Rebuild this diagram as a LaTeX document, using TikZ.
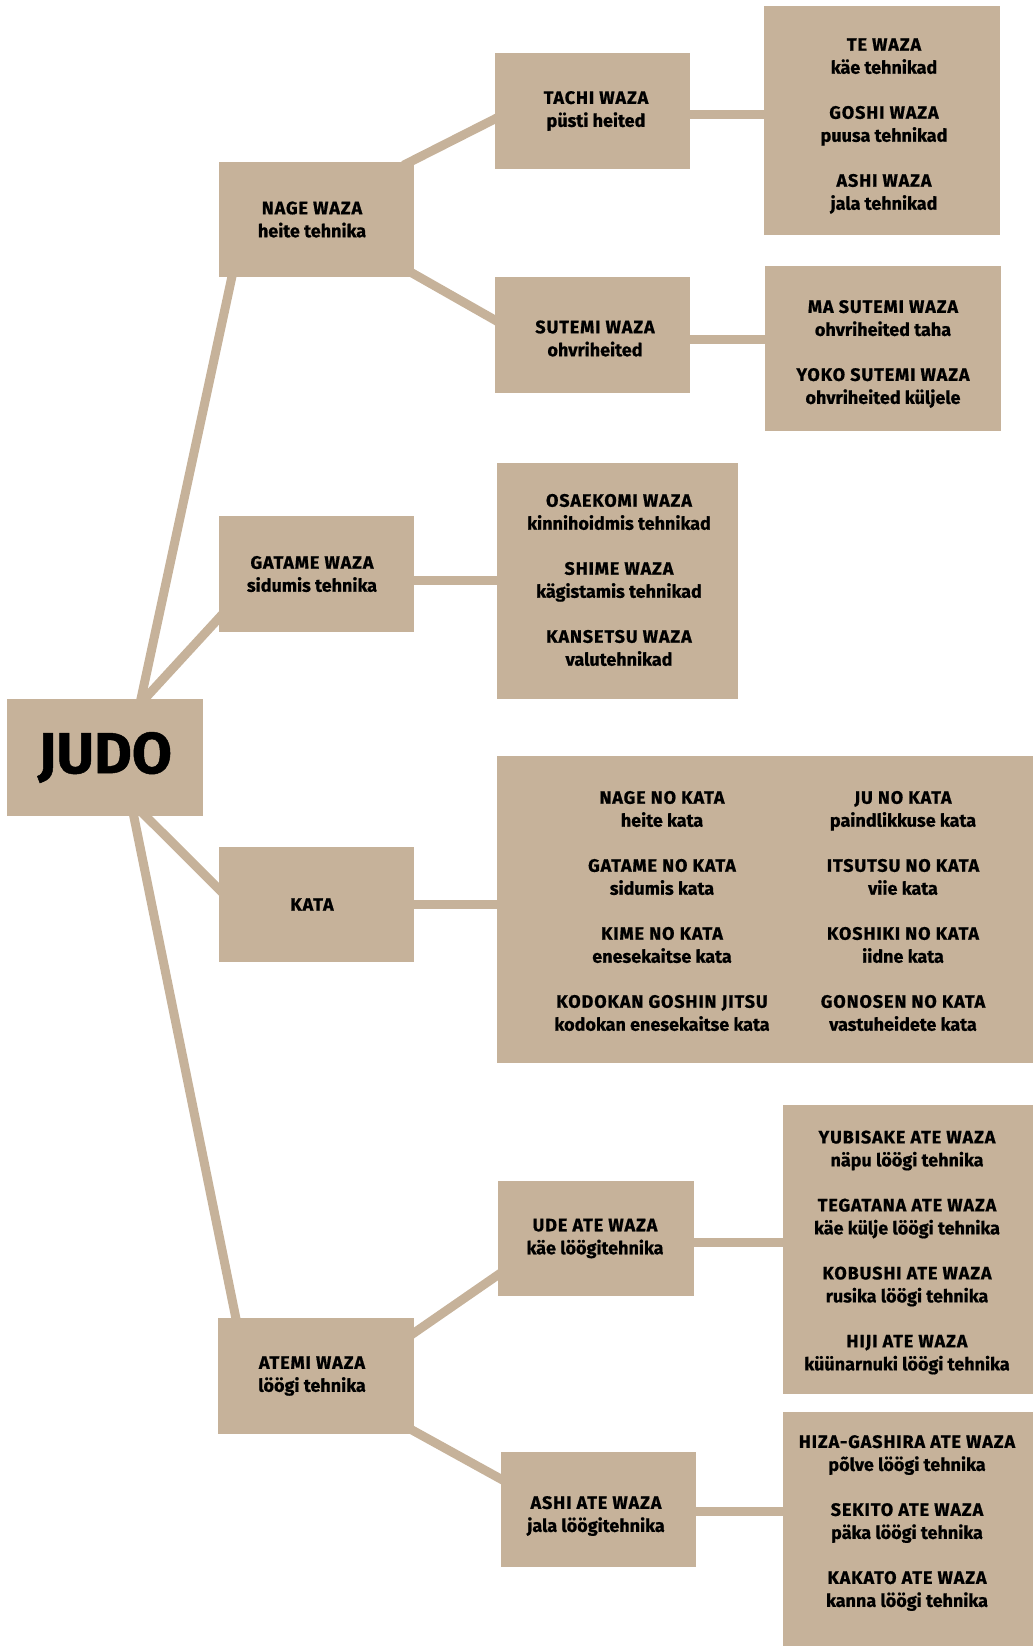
\documentclass[tikz,border=0pt]{standalone}
\usepackage{fontspec}
\setmainfont{Fira Sans}[BoldFeatures={FakeBold=0.8}]
\usetikzlibrary{calc,backgrounds}
\definecolor{boxtan}{RGB}{198,178,154}
\newcommand\txtfont{\fontsize{18}{23}\selectfont\bfseries}
\newcommand\judofont{\fontsize{58}{60}\selectfont\bfseries}
\newcommand\ti[1]{{\addfontfeature{LetterSpace=5}#1}}
\tikzset{
  box/.style={fill=boxtan, inner sep=0pt},
  lbl/.style={inner sep=0pt, align=center, font=\txtfont, text=black},
  conn/.style={draw=boxtan, line width=9pt, shorten <=-12pt, shorten >=-12pt},
  hconn/.style={draw=boxtan, line width=9pt, shorten <=-2pt, shorten >=-2pt}
}
\begin{document}
\begin{tikzpicture}[x=1pt,y=-1pt]
\useasboundingbox (0,0) rectangle (1033,1646);
\clip (0,0) rectangle (1033,1646);

% root
\node[box, minimum width=196, minimum height=117, font=\judofont, text=black] (judo) at (105,757.5) {JUDO};

% level 1
\node[box, minimum width=195, minimum height=115] (nage) at (316.5,219.5) {};
\node[lbl] (nagetxt) at (312,219.5) {\ti{NAGE WAZA}\\heite tehnika};
\node[box, minimum width=195, minimum height=116] (gatame) at (316.5,574) {};
\node[lbl] (gatametxt) at (312,574) {\ti{GATAME WAZA}\\sidumis tehnika};
\node[box, minimum width=195, minimum height=115] (kata) at (316.5,904.5) {};
\node[lbl] (katatxt) at (312,904.5) {\ti{KATA}};
\node[box, minimum width=196, minimum height=116] (atemi) at (316,1376) {};
\node[lbl] (atemitxt) at (312,1376) {\ti{ATEMI WAZA}\\löögi tehnika};

% level 2
\node[box, minimum width=195, minimum height=116] (tachi) at (592.5,111) {};
\node[lbl] (tachitxt) at (596,111) {\ti{TACHI WAZA}\\püsti heited};
\node[box, minimum width=195, minimum height=116] (sutemi) at (592.5,335) {};
\node[lbl] (sutemitxt) at (595,338.5) {\ti{SUTEMI WAZA}\\ohvriheited};
\node[box, minimum width=241, minimum height=236] (osaekomi) at (617.5,581) {};
\node[lbl] (osaekomitxt) at (619,580)
  {\ti{OSAEKOMI WAZA}\\kinnihoidmis tehnikad\\[22pt]\ti{SHIME WAZA}\\kägistamis tehnikad\\[22pt]\ti{KANSETSU WAZA}\\valutehnikad};
\node[box, minimum width=570, minimum height=307] (katabox) at (782,909.5) {};
\node[lbl] (kataL) at (662,911)
  {\ti{NAGE NO KATA}\\heite kata\\[22pt]\ti{GATAME NO KATA}\\sidumis kata\\[22pt]\ti{KIME NO KATA}\\enesekaitse kata\\[22pt]\ti{KODOKAN GOSHIN JITSU}\\kodokan enesekaitse kata};
\node[lbl] (kataR) at (903,911)
  {\ti{JU NO KATA}\\paindlikkuse kata\\[22pt]\ti{ITSUTSU NO KATA}\\viie kata\\[22pt]\ti{KOSHIKI NO KATA}\\iidne kata\\[22pt]\ti{GONOSEN NO KATA}\\vastuheidete kata};
\node[box, minimum width=196, minimum height=115] (ude) at (596,1238.5) {};
\node[lbl] (udetxt) at (595,1238.5) {\ti{UDE ATE WAZA}\\käe löögitehnika};
\node[box, minimum width=195, minimum height=115] (ashiate) at (598.5,1509.5) {};
\node[lbl] (ashiatetxt) at (596,1516) {\ti{ASHI ATE WAZA}\\jala löögitehnika};

% level 3
\node[box, minimum width=236, minimum height=229] (te) at (882,120.5) {};
\node[lbl] (tetxt) at (884,126)
  {\ti{TE WAZA}\\käe tehnikad\\[22pt]\ti{GOSHI WAZA}\\puusa tehnikad\\[22pt]\ti{ASHI WAZA}\\jala tehnikad};
\node[box, minimum width=236, minimum height=165] (ma) at (883,348.5) {};
\node[lbl] (matxt) at (883,354)
  {\ti{MA SUTEMI WAZA}\\ohvriheited taha\\[22pt]\ti{YOKO SUTEMI WAZA}\\ohvriheited küljele};
\node[box, minimum width=257, minimum height=289] (yubi) at (911.5,1249.5) {};
\node[lbl] (yubitxt) at (907,1252.5)
  {\ti{YUBISAKE ATE WAZA}\\näpu löögi tehnika\\[22pt]\ti{TEGATANA ATE WAZA}\\käe külje löögi tehnika\\[22pt]\ti{KOBUSHI ATE WAZA}\\rusika löögi tehnika\\[22pt]\ti{HIJI ATE WAZA}\\küünarnuki löögi tehnika};
\node[box, minimum width=257, minimum height=278] (hiza) at (911.5,1551) {};
\node[lbl] (hizatxt) at (907,1523)
  {\ti{HIZA-GASHIRA ATE WAZA}\\põlve löögi tehnika\\[22pt]\ti{SEKITO ATE WAZA}\\päka löögi tehnika\\[22pt]\ti{KAKATO ATE WAZA}\\kanna löögi tehnika};

\begin{pgfonlayer}{background}
% from root
\draw[conn] ($(judo.north west)+(134,1)$) -- ($(nage.south west)+(13,0)$);
\draw[conn] ($(judo.north west)+(137,1)$) -- ($(gatame.south west)+(0,-14)$);
\draw[conn] ($(judo.south west)+(139,0)$) -- ($(kata.west)+(0,-15.5)$);
\draw[conn] ($(judo.south west)+(127,0)$) -- ($(atemi.north west)+(18,0)$);
% nage
\draw[conn] ($(nage.north east)+(0,-2)$) -- ($(tachi.west)+(0,8)$);
\draw[conn] ($(nage.south east)+(0,-3)$) -- ($(sutemi.west)+(0,-15)$);
% atemi
\draw[conn] ($(atemi.north east)+(0,15)$) -- ($(ude.west)+(0,36.5)$);
\draw[conn] ($(atemi.south east)+(0,-3)$) -- ($(ashiate.west)+(0,-30.5)$);
% horizontals
\draw[hconn] ($(tachi.east)+(0,3)$) -- ($(tachi.east -| te.west)+(0,3)$);
\draw[hconn] ($(sutemi.east)+(0,4)$) -- ($(sutemi.east -| ma.west)+(0,4)$);
\draw[hconn] ($(gatame.east)+(0,6)$) -- ($(gatame.east -| osaekomi.west)+(0,6)$);
\draw[hconn] (kata.east) -- (kata.east -| katabox.west);
\draw[hconn] ($(ude.east)+(0,3.5)$) -- ($(ude.east -| yubi.west)+(0,3.5)$);
\draw[hconn] ($(ashiate.east)+(0,1.5)$) -- ($(ashiate.east -| hiza.west)+(0,1.5)$);
\end{pgfonlayer}
\end{tikzpicture}
\end{document}
